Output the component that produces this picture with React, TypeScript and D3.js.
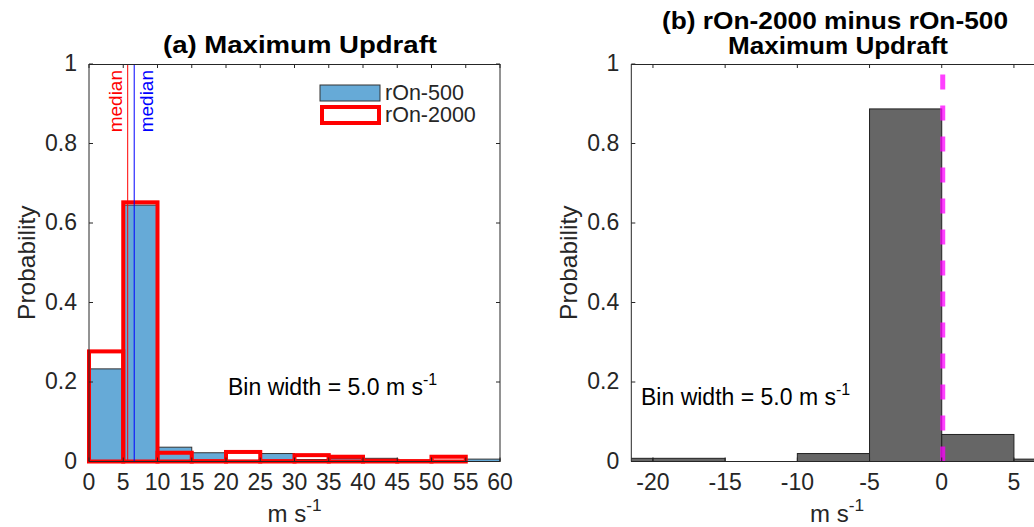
import React from 'react'
import * as d3 from 'd3'

// histogram bins, 5 m/s wide
const edgesA = [0, 5, 10, 15, 20, 25, 30, 35, 40, 45, 50, 55, 60]
const rOn500 = [0.233, 0.645, 0.036, 0.022, 0.003, 0.02, 0.005, 0.008, 0.008, 0.003, 0.002, 0.006]
const rOn2000 = [0.277, 0.652, 0.022, 0.001, 0.024, 0.001, 0.016, 0.012, 0.002, 0.001, 0.012]
const medians = [{ v: 5.65, color: '#ff0000', side: -1 }, { v: 6.6, color: '#0000ff', side: 1 }]

const edgesB = [-25, -20, -15, -10, -5, 0, 5, 10]
const diffVals = [0.008, 0.008, 0, 0.02, 0.887, 0.068, 0.006]

const xTicksA = [0, 5, 10, 15, 20, 25, 30, 35, 40, 45, 50, 55, 60]
const xTicksB = [-20, -15, -10, -5, 0, 5]
const yTicks = [0, 0.2, 0.4, 0.6, 0.8, 1]

const W = 1034
const H = 527
const top = 64
const bottom = 461.5
const font = '"Liberation Sans", Arial, Helvetica, sans-serif'
const axisColor = '#262626'

const y = d3.scaleLinear().domain([0, 1]).range([bottom, top])
const xA = d3.scaleLinear().domain([0, 60]).range([89, 500])
const xB = d3.scaleLinear().domain([-21.5, 7]).range([631.3, 1042.8])

const fmtY = (v: number) => (v === 0 || v === 1 ? String(v) : v.toFixed(1))

const Unit = ({ x, yy, size, anchor = 'middle' }: any) => (
  <text x={x} y={yy} fontSize={size} textAnchor={anchor} fill={axisColor} fontFamily={font}>
    m s<tspan dy={-11} fontSize={size * 0.72}>-1</tspan>
  </text>
)

const BinNote = ({ x, yy }: any) => (
  <text x={x} y={yy} fontSize={23} fill="#000" fontFamily={font}>
    Bin width = 5.0 m s<tspan dy={-10} fontSize={16}>-1</tspan>
  </text>
)

const Frame = ({ x, ticks, showRight }: any) => {
  const [x0, x1] = x.range()
  const tl = 4
  return (
    <g>
      {/* box */}
      <line x1={x0} x2={x0} y1={top} y2={bottom} stroke={axisColor} strokeWidth={1} />
      <line x1={x0} x2={x1} y1={top + 0.5} y2={top + 0.5} stroke={axisColor} strokeWidth={1} />
      <line x1={x0} x2={x1} y1={bottom} y2={bottom} stroke={axisColor} strokeWidth={1} />
      {showRight && <line x1={x1} x2={x1} y1={top} y2={bottom} stroke={axisColor} strokeWidth={1} />}
      {ticks.map((t: number) => (
        <g key={'x' + t}>
          <line x1={x(t)} x2={x(t)} y1={bottom} y2={bottom - tl} stroke={axisColor} />
          <line x1={x(t)} x2={x(t)} y1={top} y2={top + tl} stroke={axisColor} />
          <text x={x(t)} y={490} fontSize={23} textAnchor="middle" fill={axisColor} fontFamily={font}>{t}</text>
        </g>
      ))}
      {yTicks.map((t) => (
        <g key={'y' + t}>
          <line x1={x0} x2={x0 + tl} y1={y(t)} y2={y(t)} stroke={axisColor} />
          {showRight && <line x1={x1} x2={x1 - tl} y1={y(t)} y2={y(t)} stroke={axisColor} />}
          <text x={x0 - 12} y={y(t) + 7} fontSize={23} textAnchor="end" fill={axisColor} fontFamily={font}>{fmtY(t)}</text>
        </g>
      ))}
      <text transform={`translate(${x0 - 54},${(top + bottom) / 2}) rotate(-90)`} fontSize={24.5} textAnchor="middle" fill={axisColor} fontFamily={font}>Probability</text>
      <Unit x={(x0 + x1) / 2} yy={522} size={24} />
    </g>
  )
}

export default function App() {
  const barsA = rOn500.map((v, i) => ({ x0: edgesA[i], x1: edgesA[i + 1], v }))
  const barsRed = rOn2000.map((v, i) => ({ x0: edgesA[i], x1: edgesA[i + 1], v }))
  const barsB = diffVals.map((v, i) => ({ x0: edgesB[i], x1: edgesB[i + 1], v }))
  const [bx0, bx1] = xB.range()

  return (
    <div style={{ position: 'absolute', left: 0, top: 0 }}>
      <svg width={W} height={H} style={{ display: 'block', background: '#fff' }}>
        <defs>
          <clipPath id="clipB">
            <rect x={bx0} y={top - 2} width={bx1 - bx0} height={bottom - top + 4} />
          </clipPath>
        </defs>

        {/* (a) */}
        <text x={163} y={53} fontSize={24} fontWeight="bold" fontFamily={font}
          textLength={274} lengthAdjust="spacingAndGlyphs">(a) Maximum Updraft</text>
        {barsA.map((b, i) => (
          <rect key={i} x={xA(b.x0)} y={y(b.v)} width={xA(b.x1) - xA(b.x0)} height={bottom - y(b.v)}
            fill="#66aad7" stroke="#333" strokeWidth={1} />
        ))}
        {barsRed.map((b, i) => (
          <rect key={i} x={xA(b.x0)} y={y(b.v)} width={xA(b.x1) - xA(b.x0)} height={bottom - y(b.v)}
            fill="none" stroke="#ff0000" strokeWidth={4} />
        ))}
        {medians.map((m, i) => (
          <g key={i}>
            <line x1={xA(m.v)} x2={xA(m.v)} y1={top} y2={bottom} stroke={m.color} strokeWidth={1} />
            <text transform={`translate(${m.side < 0 ? xA(m.v) - 6 : xA(m.v) + 18.5},70) rotate(-90)`}
              fontSize={19} textAnchor="end" fill={m.color} fontFamily={font}>median</text>
          </g>
        ))}
        <Frame x={xA} ticks={xTicksA} showRight />
        <rect x={320} y={85} width={60} height={16} fill="#66aad7" stroke="#333" />
        <rect x={322} y={107} width={57} height={16} fill="none" stroke="#ff0000" strokeWidth={4} />
        <text x={385} y={100} fontSize={21.5} fill={axisColor} fontFamily={font}>rOn-500</text>
        <text x={385} y={122} fontSize={21.5} fill={axisColor} fontFamily={font}>rOn-2000</text>
        <BinNote x={228} yy={395} />

        {/* (b) */}
        <text x={662} y={29} fontSize={24} fontWeight="bold" fontFamily={font}
          textLength={346} lengthAdjust="spacingAndGlyphs">(b) rOn-2000 minus rOn-500</text>
        <text x={728} y={54} fontSize={24} fontWeight="bold" fontFamily={font}
          textLength={220} lengthAdjust="spacingAndGlyphs">Maximum Updraft</text>
        <g clipPath="url(#clipB)">
          {barsB.map((b, i) => (
            <rect key={i} x={xB(b.x0)} y={y(b.v)} width={xB(b.x1) - xB(b.x0)} height={bottom - y(b.v)}
              fill="#666666" stroke="#222" strokeWidth={1} />
          ))}
        </g>
        <line x1={xB(0) + 1} x2={xB(0) + 1} y1={bottom} y2={top} stroke="#ff00ff" strokeOpacity={0.75}
          strokeWidth={5} strokeDasharray="15 16" />
        <Frame x={xB} ticks={xTicksB} showRight={false} />
        <BinNote x={641} yy={405} />
      </svg>
    </div>
  )
}
